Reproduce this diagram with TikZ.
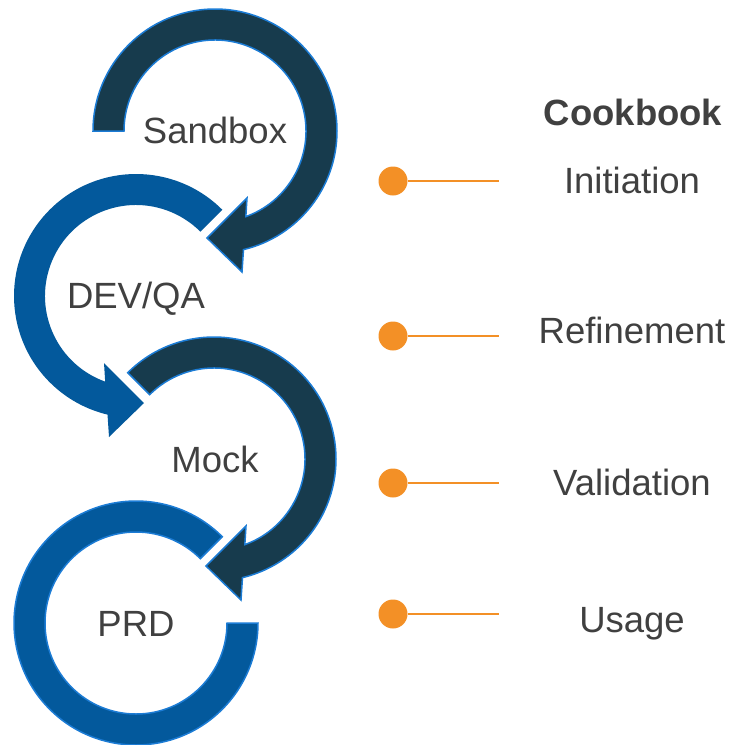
\documentclass[tikz,border=0pt]{standalone}
\usepackage{fontspec}
\setmainfont{Liberation Sans}
\usetikzlibrary{calc}
\definecolor{navy}{RGB}{23,59,77}
\definecolor{blueshape}{RGB}{3,89,156}
\definecolor{rim}{RGB}{28,124,213}
\definecolor{orange}{RGB}{243,144,38}
\definecolor{textgray}{RGB}{64,64,64}
\tikzset{
  navyarrow/.style={fill=navy, draw=rim, line width=1.5pt, line join=miter},
  bluearrow/.style={fill=blueshape},
  ring/.style={fill=blueshape, draw=rim, line width=1.5pt},
  dot/.style={circle, fill=orange, inner sep=0pt, minimum size=29pt},
  lead/.style={orange, line width=2.5pt}
}
\begin{document}
\begin{tikzpicture}[x=1pt, y=1pt, yscale=-1,
    every node/.style={font=\fontsize{36.5}{40}\selectfont, text=textgray}]
    \useasboundingbox (0,0) rectangle (734,745);

    % dark arrows (Sandbox, Mock)
    \foreach \cx/\cy/\a in {215/131/180, 214/459/225} {
        \begin{scope}[shift={(\cx,\cy)}]
            \draw[navyarrow] (\a:122) arc[start angle=\a, end angle=436.5, radius=122]
                -- (27,141) -- (-8,107) -- (32,67) -- (430.2:91)
                arc[start angle=430.2, end angle=\a, radius=91] -- cycle;
        \end{scope}
    }

    % blue arrow (DEV/QA)
    \begin{scope}[shift={(136,296)}]
        \fill[bluearrow] (-45:122) arc[start angle=-45, end angle=-256.5, radius=122]
            -- (-27,141) -- (8,107) -- (-32,67) -- (-250.2:91)
            arc[start angle=-250.2, end angle=-45, radius=91] -- cycle;
    \end{scope}

    % open ring (PRD)
    \begin{scope}[shift={(136,623)}]
        \draw[ring] (-45:122) arc[start angle=-45, end angle=-360, radius=122]
            -- (0:91) arc[start angle=0, end angle=315, radius=91] -- cycle;
    \end{scope}

    \node[anchor=base] (sandbox) at (215,143) {Sandbox};
    \node[anchor=base] (devqa) at (136,308) {DEV/QA};
    \node[anchor=base] (mock) at (215,472) {Mock};
    \node[anchor=base] (prd) at (136,636) {PRD};

    \node[anchor=base, font=\fontsize{36.5}{40}\selectfont\bfseries] (cookbook) at (633,125) {Cookbook};

    \foreach \n/\dy/\by/\w in {1/181/193/Initiation, 2/336/343/Refinement, 3/483/495/Validation, 4/614/632/Usage} {
        \node[dot] (dot\n) at (393,\dy) {};
        \coordinate (tail\n) at (499,\dy);
        \draw[lead] (dot\n) -- (tail\n);
        \node[anchor=base] (phase\n) at (632,\by) {\w};
    }
\end{tikzpicture}
\end{document}
